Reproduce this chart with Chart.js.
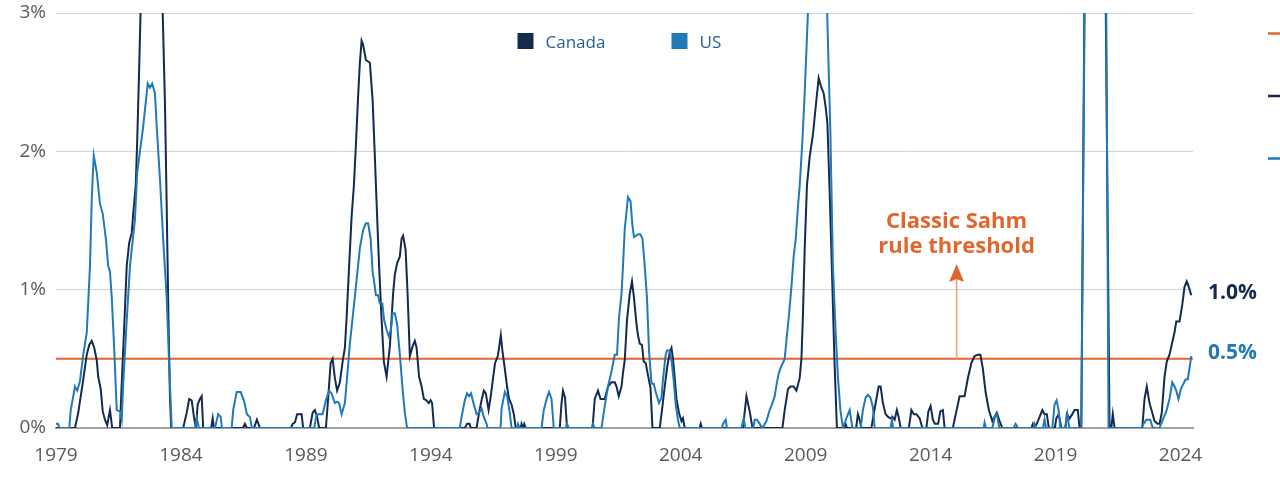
<!DOCTYPE html>
<html>
<head>
<meta charset="utf-8">
<script src="https://cdn.jsdelivr.net/npm/chart.js@4.4.1/dist/chart.umd.min.js"></script>
<style>
  html, body { margin: 0; padding: 0; background: #fff; }
  #wrap { width: 1280px; height: 477px; position: relative; }
</style>
</head>
<body>
<div id="wrap"><canvas id="myChart"></canvas></div>
<script>
// Sahm rule indicator, percentage points, decimal years
const canadaYears = [
  1979.00, 1979.76, 1979.89, 1980.09, 1980.23, 1980.33, 1980.43, 1980.53, 1980.63, 1980.69,
  1980.79, 1980.87, 1980.96, 1981.05, 1981.16, 1981.25, 1981.56, 1981.63, 1981.72, 1981.83,
  1981.93, 1982.03, 1982.09, 1982.19, 1982.25, 1982.33, 1982.41, 1982.60, 1982.90, 1983.15,
  1983.27, 1983.36, 1983.43, 1983.50, 1983.56, 1983.61,
  1984.09, 1984.23, 1984.33, 1984.43, 1984.52, 1984.60, 1984.67, 1984.76, 1984.83, 1984.89,
  1985.21, 1985.27, 1985.32, 1986.48, 1986.56, 1986.64, 1986.92, 1987.04, 1987.16,
  1988.40, 1988.47, 1988.56, 1988.65, 1988.83, 1988.89, 1989.16, 1989.27, 1989.36, 1989.45,
  1989.53, 1989.80, 1989.89, 1989.99, 1990.07, 1990.16, 1990.25, 1990.36, 1990.47, 1990.56,
  1990.63, 1990.73, 1990.83, 1990.92, 1991.00, 1991.09, 1991.16, 1991.23, 1991.29, 1991.40,
  1991.56, 1991.67, 1991.76, 1991.85, 1991.93, 1992.03, 1992.12, 1992.23, 1992.36, 1992.49,
  1992.56, 1992.65, 1992.76, 1992.83, 1992.89, 1992.99, 1993.07, 1993.16, 1993.27, 1993.36,
  1993.43, 1993.53, 1993.63, 1993.72, 1993.82, 1993.92, 1993.99, 1994.05, 1994.13,
  1995.36, 1995.45, 1995.55, 1995.60, 1995.83, 1995.93, 1996.03, 1996.12, 1996.20, 1996.31,
  1996.39, 1996.49, 1996.57, 1996.68, 1996.73, 1996.80, 1996.87, 1996.96, 1997.05, 1997.13,
  1997.23, 1997.32, 1997.40, 1997.60, 1997.63, 1997.69, 1997.74, 1997.80,
  1999.16, 1999.23, 1999.29, 1999.37, 1999.45,
  2000.47, 2000.56, 2000.69, 2000.79, 2000.96, 2001.09, 2001.23, 2001.36, 2001.43, 2001.52,
  2001.63, 2001.69, 2001.76, 2001.85, 2001.96, 2002.05, 2002.13, 2002.23, 2002.29, 2002.36,
  2002.45, 2002.52, 2002.60, 2002.69, 2002.79, 2002.87,
  2003.16, 2003.27, 2003.36, 2003.45, 2003.56, 2003.63, 2003.69, 2003.76, 2003.83, 2003.93,
  2004.03, 2004.09, 2004.16, 2004.76, 2004.80, 2004.85,
  2006.49, 2006.63, 2006.76, 2006.87,
  2008.07, 2008.16, 2008.29, 2008.39, 2008.52, 2008.63, 2008.76, 2008.83, 2008.89, 2008.96,
  2009.05, 2009.16, 2009.29, 2009.40, 2009.52, 2009.63, 2009.72, 2009.80, 2009.87, 2009.96,
  2010.05, 2010.15, 2010.25,
  2010.55, 2010.60, 2010.65, 2011.02, 2011.09, 2011.16, 2011.23, 2011.63, 2011.73, 2011.83,
  2011.92, 2012.00, 2012.09, 2012.20, 2012.30, 2012.39, 2012.47, 2012.56, 2012.65, 2012.72,
  2012.80, 2013.13, 2013.23, 2013.33, 2013.43, 2013.56, 2013.67, 2013.83, 2013.91, 2014.00,
  2014.09, 2014.17, 2014.30, 2014.39, 2014.49, 2014.56, 2014.89, 2015.03, 2015.16, 2015.36,
  2015.49, 2015.63, 2015.76, 2015.89, 2015.99, 2016.09, 2016.20, 2016.33, 2016.47, 2016.56,
  2016.65, 2016.76, 2016.87,
  2018.03, 2018.09, 2018.15, 2018.25, 2018.36, 2018.47, 2018.56, 2018.65, 2018.73, 2018.97,
  2019.03, 2019.13, 2019.23, 2019.40, 2019.45, 2019.56, 2019.67, 2019.76, 2019.89, 2019.96,
  2020.03, 2020.20, 2020.40, 2020.80, 2020.98, 2021.16, 2021.23, 2021.29, 2021.36,
  2022.47, 2022.56, 2022.65, 2022.76, 2022.87, 2022.96, 2023.08, 2023.16, 2023.25, 2023.36,
  2023.45, 2023.56, 2023.67, 2023.76, 2023.83, 2023.96, 2024.07, 2024.16, 2024.25, 2024.33,
  2024.43
];
const canadaValues = [
  0, 0, 0.11, 0.35, 0.53, 0.60, 0.63, 0.58, 0.49, 0.37,
  0.28, 0.12, 0.06, 0.02, 0.13, 0, 0, 0.32, 0.69, 1.17,
  1.34, 1.41, 1.55, 1.75, 2.08, 2.61, 3.2, 3.9, 4.4, 3.7,
  3.0, 2.35, 1.6, 0.8, 0.22, 0,
  0, 0.11, 0.21, 0.20, 0.08, 0, 0.17, 0.21, 0.23, 0,
  0, 0.07, 0, 0, 0.03, 0, 0, 0.06, 0,
  0, 0.03, 0.04, 0.10, 0.10, 0, 0, 0.11, 0.13, 0.08,
  0, 0, 0.21, 0.47, 0.50, 0.36, 0.27, 0.33, 0.48, 0.58,
  0.80, 1.17, 1.53, 1.75, 2.04, 2.40, 2.64, 2.80, 2.77, 2.66,
  2.64, 2.37, 1.96, 1.53, 1.17, 0.78, 0.48, 0.37, 0.59, 0.97,
  1.11, 1.19, 1.24, 1.37, 1.39, 1.29, 0.97, 0.52, 0.59, 0.63,
  0.58, 0.37, 0.30, 0.21, 0.20, 0.18, 0.20, 0.18, 0,
  0, 0.03, 0.03, 0, 0, 0.11, 0.20, 0.27, 0.25, 0.13,
  0.22, 0.36, 0.47, 0.52, 0.58, 0.67, 0.55, 0.43, 0.30, 0.21,
  0.17, 0.10, 0, 0, 0.03, 0, 0.03, 0,
  0, 0.18, 0.27, 0.22, 0,
  0, 0.21, 0.27, 0.21, 0.21, 0.30, 0.33, 0.33, 0.30, 0.23,
  0.30, 0.40, 0.49, 0.78, 0.97, 1.06, 0.94, 0.75, 0.67, 0.61,
  0.60, 0.48, 0.47, 0.38, 0.29, 0,
  0, 0.16, 0.30, 0.43, 0.55, 0.58, 0.50, 0.36, 0.21, 0.11,
  0.05, 0.07, 0, 0, 0.03, 0,
  0, 0.23, 0.12, 0,
  0, 0.13, 0.28, 0.30, 0.30, 0.27, 0.36, 0.50, 0.81, 1.29,
  1.75, 1.96, 2.12, 2.32, 2.53, 2.46, 2.42, 2.32, 2.20, 1.70,
  1.15, 0.50, 0,
  0, 0.03, 0, 0, 0.10, 0.06, 0, 0, 0.11, 0.21,
  0.30, 0.30, 0.18, 0.10, 0.08, 0.07, 0.08, 0.06, 0.13, 0.08,
  0, 0, 0.13, 0.10, 0.10, 0.07, 0, 0, 0.12, 0.16,
  0.06, 0.03, 0.03, 0.12, 0.13, 0, 0, 0.12, 0.23, 0.23,
  0.36, 0.47, 0.52, 0.53, 0.53, 0.43, 0.26, 0.13, 0.05, 0.08,
  0.11, 0.05, 0,
  0, 0.03, 0, 0.03, 0.08, 0.13, 0.10, 0.10, 0, 0,
  0.07, 0.10, 0, 0, 0.10, 0.07, 0.10, 0.13, 0.13, 0,
  0, 4.2, 7.5, 6.5, 3.6, 0, 0, 0.10, 0,
  0, 0.21, 0.30, 0.18, 0.11, 0.05, 0.03, 0.03, 0.11, 0.37,
  0.48, 0.53, 0.62, 0.69, 0.77, 0.77, 0.89, 1.02, 1.06, 1.02,
  0.96
];

const usYears = [
  1979.00, 1979.08, 1979.14, 1979.53, 1979.59, 1979.76, 1979.85, 1979.96, 1980.09, 1980.23,
  1980.36, 1980.43, 1980.51, 1980.63, 1980.76, 1980.87, 1981.00, 1981.09, 1981.16, 1981.23,
  1981.33, 1981.43, 1981.56, 1981.63, 1981.69, 1981.83, 1981.96, 1982.16, 1982.25, 1982.49,
  1982.67, 1982.76, 1982.85, 1982.96, 1983.03, 1983.16, 1983.29, 1983.43, 1983.53, 1983.63,
  1984.57, 1984.63, 1984.72, 1985.36, 1985.49, 1985.59, 1985.64, 1986.03, 1986.09, 1986.23,
  1986.39, 1986.52, 1986.64, 1986.76, 1986.84,
  1989.33, 1989.43, 1989.67, 1989.80, 1989.93, 1990.03, 1990.16, 1990.25, 1990.33, 1990.43,
  1990.56, 1990.65, 1990.76, 1990.89, 1991.00, 1991.16, 1991.29, 1991.40, 1991.49, 1991.59,
  1991.67, 1991.73, 1991.80, 1991.89, 1991.96, 1992.06, 1992.13, 1992.23, 1992.32, 1992.40,
  1992.47, 1992.56, 1992.65, 1992.76, 1992.87, 1992.96, 1993.05,
  1995.16, 1995.23, 1995.36, 1995.45, 1995.53, 1995.61, 1995.72, 1995.83, 1995.93, 1996.03,
  1996.12, 1996.23, 1996.27, 1996.79, 1996.83, 1996.96, 1997.05, 1997.16, 1997.23, 1997.45,
  1997.49, 1997.55,
  1998.43, 1998.52, 1998.65, 1998.73, 1998.83, 1998.92, 1999.40, 1999.45, 1999.52,
  2000.44, 2000.49, 2000.55, 2000.83, 2000.96, 2001.09, 2001.23, 2001.36, 2001.45, 2001.53,
  2001.63, 2001.69, 2001.76, 2001.89, 2001.99, 2002.07, 2002.13, 2002.21, 2002.29, 2002.38,
  2002.47, 2002.56, 2002.65, 2002.73, 2002.83, 2002.92, 2003.00, 2003.13, 2003.23, 2003.29,
  2003.39, 2003.45, 2003.56, 2003.63, 2003.72, 2003.80, 2003.89, 2003.96,
  2005.65, 2005.69, 2005.80, 2005.85, 2006.43, 2006.52, 2006.58, 2006.90, 2006.96, 2007.05,
  2007.16, 2007.27, 2007.43, 2007.56, 2007.67, 2007.76, 2007.85, 2007.93, 2008.03, 2008.09,
  2008.16, 2008.25, 2008.33, 2008.43, 2008.52, 2008.60, 2008.69, 2008.76, 2008.87, 2008.96,
  2009.03, 2009.09, 2009.30, 2009.60, 2009.80, 2009.99, 2010.09, 2010.20, 2010.29, 2010.39,
  2010.49, 2010.65, 2010.76, 2010.87, 2011.20, 2011.29, 2011.40, 2011.49, 2011.59, 2011.69,
  2011.76, 2012.40, 2012.45, 2012.50,
  2016.12, 2016.16, 2016.21, 2016.47, 2016.57, 2016.65, 2016.75, 2017.32, 2017.40, 2017.50,
  2018.12, 2018.16, 2018.22, 2018.50, 2018.56, 2018.62, 2018.87, 2018.96, 2019.04, 2019.12,
  2019.19, 2019.38, 2019.47, 2019.55,
  2020.03, 2020.20, 2020.40, 2020.80, 2021.00, 2021.12,
  2022.43, 2022.52, 2022.63, 2022.79, 2022.89, 2023.16, 2023.29, 2023.43, 2023.56, 2023.67,
  2023.76, 2023.83, 2023.92, 2024.03, 2024.12, 2024.20, 2024.29, 2024.36, 2024.43
];
const usValues = [
  0.03, 0.03, 0, 0, 0.13, 0.30, 0.27, 0.34, 0.53, 0.69,
  1.17, 1.65, 1.97, 1.85, 1.62, 1.55, 1.36, 1.17, 1.13, 0.95,
  0.57, 0.13, 0.12, 0.06, 0.32, 0.78, 1.17, 1.51, 1.85, 2.18,
  2.49, 2.46, 2.49, 2.42, 2.18, 1.80, 1.36, 0.94, 0.45, 0,
  0, 0.07, 0, 0, 0.10, 0.08, 0, 0, 0.13, 0.26,
  0.26, 0.20, 0.10, 0.08, 0,
  0, 0.10, 0.10, 0.20, 0.27, 0.25, 0.18, 0.19, 0.18, 0.10,
  0.18, 0.37, 0.61, 0.83, 1.02, 1.30, 1.43, 1.48, 1.48, 1.37,
  1.13, 1.06, 0.96, 0.96, 0.90, 0.90, 0.78, 0.71, 0.66, 0.71,
  0.83, 0.83, 0.75, 0.53, 0.28, 0.11, 0,
  0, 0.08, 0.20, 0.25, 0.23, 0.25, 0.17, 0.10, 0.11, 0.14,
  0.08, 0.03, 0, 0, 0.14, 0.26, 0.23, 0.11, 0, 0,
  0.03, 0,
  0, 0.13, 0.22, 0.26, 0.21, 0, 0, 0.03, 0,
  0, 0.03, 0, 0, 0.16, 0.30, 0.41, 0.53, 0.53, 0.80,
  0.97, 1.17, 1.44, 1.67, 1.64, 1.46, 1.38, 1.39, 1.40, 1.40,
  1.37, 1.17, 0.94, 0.56, 0.32, 0.32, 0.26, 0.18, 0.22, 0.35,
  0.52, 0.56, 0.56, 0.49, 0.34, 0.17, 0.06, 0,
  0, 0.03, 0.06, 0, 0, 0.07, 0, 0, 0.06, 0.06,
  0.03, 0, 0.05, 0.13, 0.18, 0.23, 0.33, 0.40, 0.45, 0.47,
  0.50, 0.67, 0.81, 1.02, 1.24, 1.36, 1.60, 1.75, 2.08, 2.42,
  2.73, 3.0, 3.6, 3.8, 3.4, 2.13, 1.17, 0.69, 0.37, 0.13,
  0, 0.08, 0.13, 0, 0, 0.13, 0.22, 0.24, 0.22, 0.15,
  0, 0, 0.06, 0,
  0, 0.04, 0, 0, 0.08, 0.10, 0, 0, 0.03, 0,
  0, 0.03, 0, 0, 0.06, 0, 0, 0.17, 0.20, 0.13,
  0, 0, 0.10, 0,
  0, 3.9, 9.0, 7.5, 4.0, 0,
  0, 0.03, 0.06, 0.06, 0, 0, 0.06, 0.12, 0.21, 0.33,
  0.30, 0.27, 0.21, 0.29, 0.32, 0.35, 0.35, 0.43, 0.52
];

const threshold = 0.5;
const xTickYears = [1979, 1984, 1989, 1994, 1999, 2004, 2009, 2014, 2019, 2024];
const yTickValues = [0, 1, 2, 3];

const NAVY = '#142a4f';
const BLUE = '#2179b6';
const ORANGE = '#e2652c';
const FONT = '"Open Sans", Lato, sans-serif';

function pairs(xs, ys) {
  return xs.map((x, i) => ({ x: x, y: ys[i] }));
}

// legend, annotation and end labels drawn on top of the plot
const overlay = {
  id: 'overlay',
  afterDraw(chart) {
    const { ctx, chartArea, scales } = chart;
    const x = scales.x, y = scales.y;
    ctx.save();

    // legend
    const mid = (chartArea.left + chartArea.right) / 2;
    ctx.font = '17px ' + FONT;
    ctx.textBaseline = 'alphabetic';
    ctx.textAlign = 'left';
    ctx.fillStyle = NAVY;
    ctx.fillRect(mid - 107, 33, 16, 16);
    ctx.fillStyle = '#245f93';
    ctx.fillText('Canada', mid - 79, 48);
    ctx.fillStyle = BLUE;
    ctx.fillRect(mid + 47, 33, 16, 16);
    ctx.fillStyle = '#245f93';
    ctx.fillText('US', mid + 75, 48);

    // threshold annotation with arrow
    const ax = x.getPixelForValue(2015.04);
    const yBase = y.getPixelForValue(threshold);
    const yTip = y.getPixelForValue(1.185);
    ctx.strokeStyle = '#f0a37a';
    ctx.lineWidth = 1.6;
    ctx.beginPath();
    ctx.moveTo(ax, yBase);
    ctx.lineTo(ax, yTip + 14);
    ctx.stroke();
    ctx.fillStyle = ORANGE;
    ctx.beginPath();
    ctx.moveTo(ax, yTip);
    ctx.lineTo(ax + 7.5, yTip + 18);
    ctx.lineTo(ax, yTip + 15);
    ctx.lineTo(ax - 7.5, yTip + 18);
    ctx.closePath();
    ctx.fill();
    ctx.font = 'bold 22px ' + FONT;
    ctx.textAlign = 'center';
    ctx.fillText('Classic Sahm', ax, yTip - 36);
    ctx.fillText('rule threshold', ax, yTip - 11);

    // end-of-series labels
    ctx.font = 'bold 21px ' + FONT;
    ctx.textAlign = 'left';
    const lx = chartArea.right + 15;
    const cLast = canadaValues[canadaValues.length - 1];
    const uLast = usValues[usValues.length - 1];
    ctx.fillStyle = NAVY;
    ctx.fillText(cLast.toFixed(1) + '%', lx, y.getPixelForValue(cLast) + 4);
    ctx.fillStyle = BLUE;
    ctx.fillText(uLast.toFixed(1) + '%', lx, y.getPixelForValue(uLast) + 3);

    // clipped legend keys at the right edge
    ctx.lineWidth = 2.5;
    [[ORANGE, 33.5], [NAVY, 96], [BLUE, 158.5]].forEach(function (k) {
      ctx.strokeStyle = k[0];
      ctx.beginPath();
      ctx.moveTo(1268, k[1]);
      ctx.lineTo(1280, k[1]);
      ctx.stroke();
    });
    ctx.restore();
  }
};

const ctx = document.getElementById('myChart').getContext('2d');
const myChart = new Chart(ctx, {
  type: 'line',
  data: {
    datasets: [
      {
        label: 'US',
        data: pairs(usYears, usValues),
        borderColor: BLUE,
        borderWidth: 2,
        pointRadius: 0,
        tension: 0,
        clip: 0,
        order: 0,
      },
      {
        label: 'Canada',
        data: pairs(canadaYears, canadaValues),
        borderColor: NAVY,
        borderWidth: 2,
        pointRadius: 0,
        tension: 0,
        clip: 0,
        order: 1,
      },
      {
        label: 'Threshold',
        data: [{ x: 1979, y: threshold }, { x: 2024.5, y: threshold }],
        borderColor: ORANGE,
        borderWidth: 2,
        pointRadius: 0,
        clip: 0,
        order: 2,
      },
    ]
  },
  options: {
    responsive: true,
    maintainAspectRatio: false,
    animation: false,
    layout: { padding: { top: 13, right: 87, left: 0, bottom: 0 } },
    plugins: {
      legend: { display: false },
      tooltip: { enabled: false },
    },
    scales: {
      x: {
        type: 'linear',
        min: 1979,
        max: 2024.5,
        afterBuildTicks: function (scale) {
          scale.ticks = xTickYears.map(v => ({ value: v }));
        },
        afterFit: function (scale) {
          scale.height = 49;
          scale.paddingLeft = 0;
          scale.paddingRight = 0;
        },
        grid: { display: false, drawTicks: false },
        border: { display: true, color: '#a3a3a3', width: 2 },
        ticks: {
          padding: 16,
          color: '#5a5a5a',
          font: { family: FONT, size: 19 },
          maxRotation: 0,
          callback: v => String(v),
        },
      },
      y: {
        min: 0,
        max: 3,
        afterBuildTicks: function (scale) {
          scale.ticks = yTickValues.map(v => ({ value: v }));
        },
        afterFit: function (scale) {
          scale.width = 56;
          scale.paddingTop = 0;
          scale.paddingBottom = 0;
        },
        grid: {
          drawTicks: false,
          color: c => (c.tick && c.tick.value === 0) ? 'rgba(0,0,0,0)' : '#d4d4d4',
          lineWidth: 1,
        },
        border: { display: false },
        ticks: {
          padding: 10,
          color: '#5a5a5a',
          font: { family: FONT, size: 19 },
          callback: v => v + '%',
        },
      },
    },
  },
  plugins: [overlay],
});
</script>
</body>
</html>
